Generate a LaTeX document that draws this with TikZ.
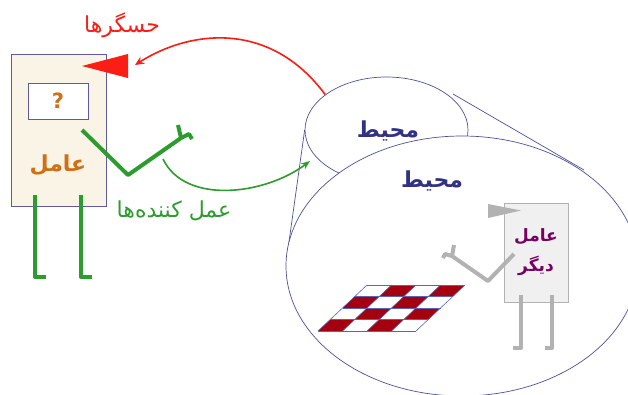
\documentclass[tikz,border=0pt]{standalone}
\usepackage{fontspec}
\usetikzlibrary{shapes.geometric,arrows.meta}
\newfontfamily\fa[Script=Arabic]{DejaVu Sans}
\TeXXeTstate=1

\definecolor{envedge}{RGB}{80,80,150}
\definecolor{envtext}{RGB}{50,50,130}
\definecolor{agentfill}{RGB}{249,244,230}
\definecolor{agentedge}{RGB}{90,90,165}
\definecolor{limbgreen}{RGB}{45,155,45}
\definecolor{sensorred}{RGB}{250,30,20}
\definecolor{agenttext}{RGB}{210,110,20}
\definecolor{othergray}{RGB}{178,178,178}
\definecolor{otherfill}{RGB}{240,240,240}
\definecolor{othertext}{RGB}{120,0,100}
\definecolor{tilered}{RGB}{165,0,15}
\definecolor{tileedge}{RGB}{90,100,180}

\tikzset{
  envshape/.style={ellipse, draw=envedge, fill=white, line width=0.7pt, inner sep=0pt},
  envline/.style={draw=envedge, line width=0.7pt},
  envlabel/.style={text=envtext, font=\fa\bfseries\fontsize{22}{24}\selectfont},
  greenlimb/.style={draw=limbgreen, line width=4pt, line join=round, line cap=butt},
  graylimb/.style={draw=othergray, line width=4pt, line join=round, line cap=butt},
  persian/.style={font=\fa\fontsize{22}{24}\selectfont},
}

\begin{document}
\begin{tikzpicture}[x=1pt,y=-1pt]
\useasboundingbox (0,0) rectangle (628,394);
\clip (0,0) rectangle (628,394);
\fill[white] (0,0) rectangle (628,394);

% ---- environment: small ellipse, cone lines, large ellipse ----
\node[envshape, minimum width=163pt, minimum height=106pt] (envsmall) at (386.5,130) {};
\coordinate (coneL) at (287,256);
\coordinate (coneRtop) at (453,94);
\coordinate (coneR) at (584,170);
\draw[envline] (envsmall.west) -- (coneL);
\draw[envline] (coneRtop) -- (coneR);
\node[envshape, minimum width=352pt, minimum height=260pt] (envbig) at (462,266) {};

\node[envlabel] (envtxt1) at (388,131) {\beginR محیط\endR};
\node[envlabel] (envtxt2) at (432,181) {\beginR محیط\endR};

% ---- checkerboard floor ----
\foreach \i in {0,...,3}{
  \foreach \j in {0,...,3}{
    \pgfmathtruncatemacro{\odd}{mod(\i+\j,2)}
    \ifnum\odd=1
      \fill[tilered]
        ({367+24.5*\i-12.25*\j},{285+11.5*\j}) --
        ({367+24.5*(\i+1)-12.25*\j},{285+11.5*\j}) --
        ({367+24.5*(\i+1)-12.25*(\j+1)},{285+11.5*(\j+1)}) --
        ({367+24.5*\i-12.25*(\j+1)},{285+11.5*(\j+1)}) -- cycle;
    \fi
  }
}
\foreach \k in {0,...,4}{
  \draw[tileedge, line width=0.6pt] ({367-12.25*\k},{285+11.5*\k}) -- ({465-12.25*\k},{285+11.5*\k});
  \draw[tileedge, line width=0.6pt] ({367+24.5*\k},285) -- ({318+24.5*\k},331);
}

% ---- the other agent ----
\node[draw=othergray, fill=otherfill, line width=0.7pt, minimum width=64pt, minimum height=99pt, inner sep=0pt] (other) at (536,252.5) {};
\fill[othergray] (488,204) -- (521,210.5) -- (488,218) -- cycle;
\draw[graylimb] (521,295) -- (521,348) -- (513,348);
\draw[graylimb] (552,295) -- (552,348) -- (545,348);
\draw[graylimb] (514,254) -- (488,281) -- (452,256);
\draw[graylimb] (454,245) -- (452,256) -- (445,254) -- (443,258);
\node[text=othertext, font=\fa\bfseries\fontsize{17}{19}\selectfont] (othertxt1) at (536,237) {\beginR عامل\endR};
\node[text=othertext, font=\fa\bfseries\fontsize{17}{19}\selectfont] (othertxt2) at (536,266) {\beginR دیگر\endR};

% ---- the agent ----
\node[draw=agentedge, fill=agentfill, line width=0.7pt, minimum width=95pt, minimum height=152pt, inner sep=0pt] (agent) at (58.5,130) {};
\node[draw=agentedge, fill=white, line width=0.7pt, minimum width=60pt, minimum height=36pt, inner sep=0pt,
      text=agenttext, font=\fa\bfseries\fontsize{21}{22}\selectfont] (percept) at (58,101) {?};
\node[text=agenttext, font=\fa\bfseries\fontsize{22}{24}\selectfont] (agenttxt) at (58,165) {\beginR عامل\endR};
\draw[greenlimb] (35,195) -- (35,277) -- (46,277);
\draw[greenlimb] (81,195) -- (81,277) -- (92,277);
\draw[greenlimb] (82,130) -- (128,175) -- (181,138);
\draw[greenlimb] (178,125) -- (181,138) -- (189,134) -- (192,139);
\fill[sensorred] (82,66) -- (128,54) -- (128,78) -- cycle;
\coordinate (sensorin) at (135,65);
\coordinate (effout) at (163,159);

% ---- percepts and actions ----
\draw[sensorred, line width=1.6pt, -{Stealth[length=9pt,width=8pt]}]
  (envsmall.150) .. controls (270,20) and (190,30) .. (sensorin);
\draw[limbgreen, line width=1.6pt, -{Stealth[length=9pt,width=7pt]}]
  (effout) .. controls (185,205) and (265,195) .. (310,161);

\node[persian, text=sensorred] (sensorlbl) at (122,25) {\beginR حسگرها\endR};
\node[persian, text=limbgreen] (effectorlbl) at (174,211) {\beginR عمل کننده‌ها\endR};
\end{tikzpicture}
\end{document}
